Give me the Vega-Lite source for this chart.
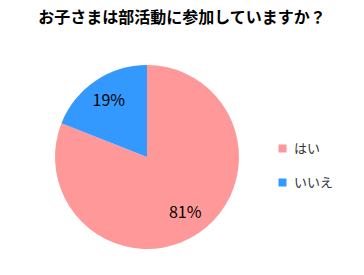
{
  "$schema": "https://vega.github.io/schema/vega-lite/v6.json",
  "width": 294,
  "height": 234,
  "autosize": "none",
  "padding": {"left": 0, "top": 40, "right": 70, "bottom": 1},
  "background": "white",
  "title": {
    "text": "お子さまは部活動に参加していますか？",
    "font": "Noto Sans CJK JP",
    "fontSize": 16,
    "fontWeight": "bold",
    "color": "#000000",
    "anchor": "middle",
    "frame": "group",
    "dx": 35,
    "offset": 14
  },
  "data": {
    "values": [
      {"answer": "はい", "value": 81, "label": "81%", "ord": 1},
      {"answer": "いいえ", "value": 19, "label": "19%", "ord": 2}
    ]
  },
  "encoding": {
    "theta": {"field": "value", "type": "quantitative", "stack": true},
    "order": {"field": "ord", "type": "quantitative"}
  },
  "layer": [
    {
      "mark": {"type": "arc", "outerRadius": 92, "stroke": null},
      "encoding": {
        "color": {
          "field": "answer",
          "type": "nominal",
          "sort": ["はい", "いいえ"],
          "scale": {"domain": ["はい", "いいえ"], "range": ["#FF9999", "#3399FF"]},
          "legend": {
            "title": null,
            "orient": "none",
            "legendX": 276,
            "legendY": 102,
            "symbolType": "square",
            "symbolSize": 64,
            "symbolStrokeWidth": 0,
            "labelFont": "Noto Sans CJK JP",
            "labelFontSize": 13,
            "labelColor": "#333333",
            "rowPadding": 20,
            "labelOffset": 5
          }
        }
      }
    },
    {
      "mark": {"type": "text", "radius": 68, "font": "Noto Sans CJK JP", "fontSize": 16, "fill": "#000000"},
      "encoding": {"text": {"field": "label"}}
    }
  ],
  "config": {"view": {"stroke": null}}
}
